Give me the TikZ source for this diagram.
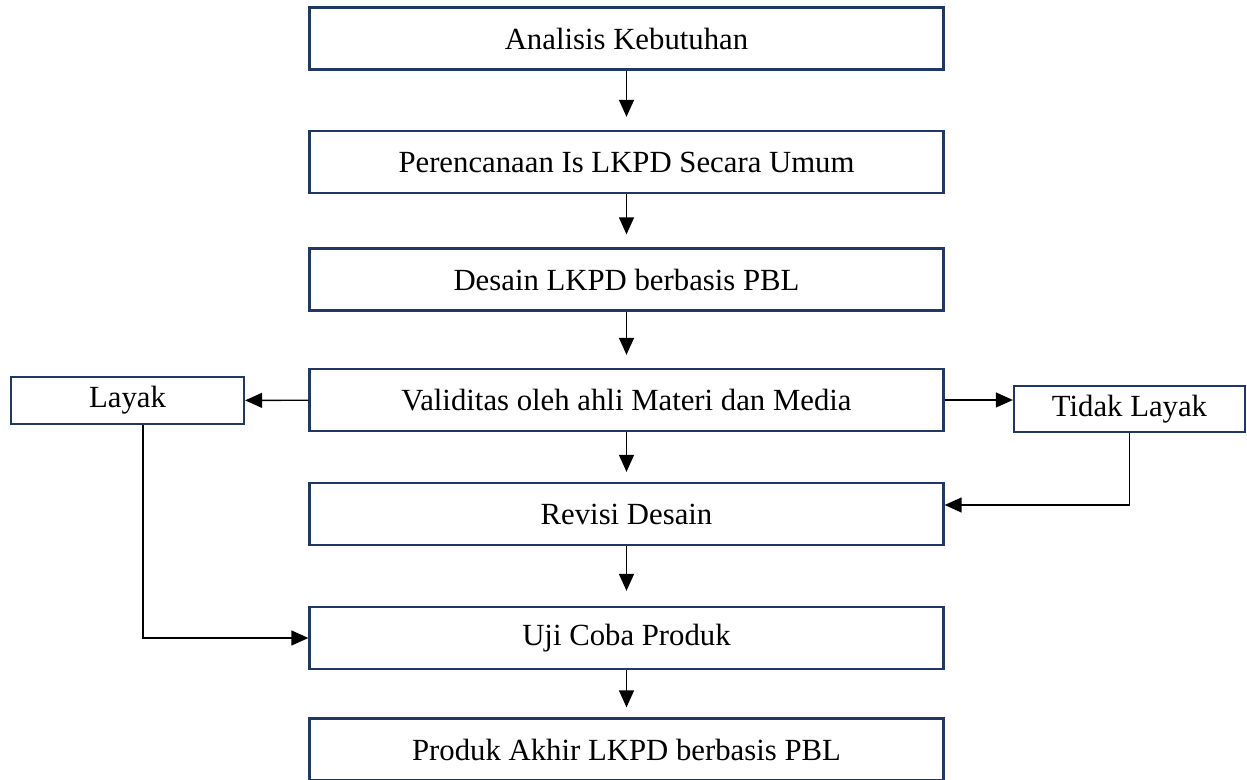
\documentclass[tikz,border=0pt]{standalone}
\usepackage{fontspec}
\setmainfont{Liberation Serif}
\usepackage{tikz}
\usetikzlibrary{arrows.meta}
\definecolor{boxblue}{HTML}{1F3864}

\begin{document}
\begin{tikzpicture}[
    font=\fontsize{17.5}{21}\selectfont,
    stepbox/.style={shape=rectangle, draw=boxblue, line width=1.3pt, minimum width=12.68cm, minimum height=1.24cm, inner sep=0pt},
    sidebox/.style={shape=rectangle, draw=boxblue, line width=1.3pt, minimum height=0.93cm, inner sep=0pt},
    flow/.style={-{Triangle[length=0.34cm,width=0.3cm]}, line width=0.75pt, black}
]
    \useasboundingbox (0,0) rectangle (24.94,-15.6);
    \node[stepbox] at (12.53,-0.77) (S0) {Analisis Kebutuhan};
    \node[stepbox] at (12.53,-3.24) (S1) {Perencanaan Is LKPD Secara Umum};
    \node[stepbox] at (12.53,-5.59) (S2) {Desain LKPD berbasis PBL};
    \node[stepbox] at (12.53,-8.00) (S3) {Validitas oleh ahli Materi dan Media};
    \node[stepbox] at (12.53,-10.28) (S4) {Revisi Desain};
    \node[stepbox] at (12.53,-12.76) (S5) {Uji Coba Produk};
    \node[stepbox] at (12.53,-14.99) (S6) {Produk Akhir LKPD berbasis PBL};
    \node[sidebox, minimum width=4.66cm] at (2.55,-8.01) (L) {Layak};
    \node[sidebox, minimum width=4.62cm] at (22.59,-8.18) (TL) {Tidak Layak};
    \path [flow, shorten >=0.26cm] (S0) edge (S1);
    \path [flow, shorten >=0.26cm] (S1) edge (S2);
    \path [flow, shorten >=0.26cm] (S2) edge (S3);
    \path [flow, shorten >=0.2cm] (S3) edge (S4);
    \path [flow, shorten >=0.3cm] (S4) edge (S5);
    \path [flow, shorten >=0.2cm] (S5) edge (S6);
    \path [flow] (S3) edge (L);
    \draw [flow] (S3.east) -- (S3.east -| TL.west);
    \draw [flow] ([xshift=0.31cm]L.south) |- (S5);
    \draw [flow] (TL.south) |- ([yshift=0.18cm]S4.east);
\end{tikzpicture}
\end{document}
